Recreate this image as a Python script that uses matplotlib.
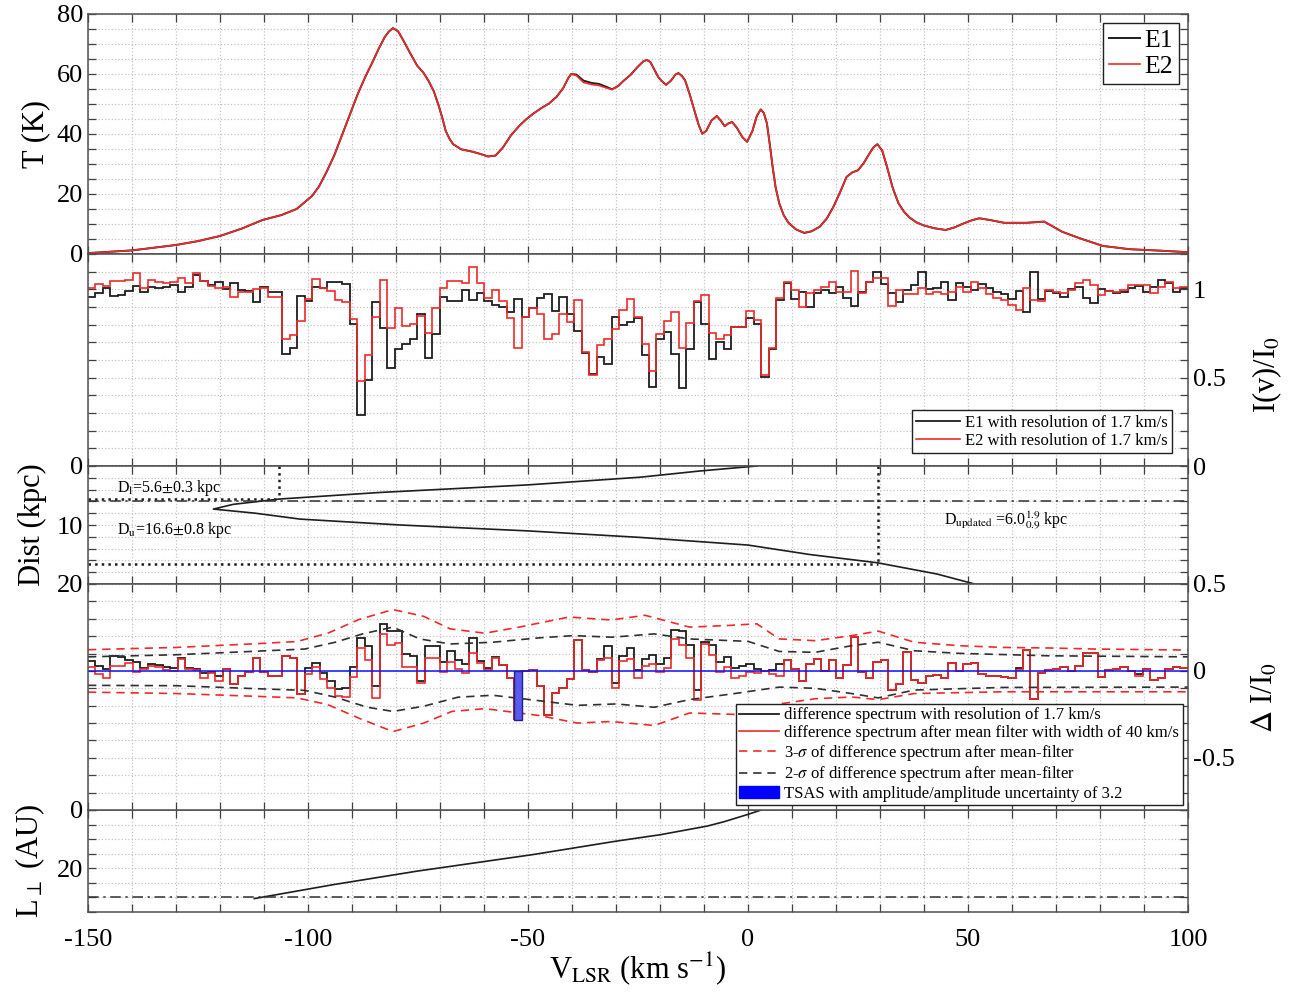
import numpy as np
import matplotlib.pyplot as plt
from matplotlib.ticker import MultipleLocator, FormatStrFormatter
from matplotlib.patches import Patch
from matplotlib.lines import Line2D

plt.rcParams['font.family'] = ['Liberation Serif', 'DejaVu Serif']
plt.rcParams['mathtext.fontset'] = 'stix'
plt.rcParams['axes.unicode_minus'] = False

# ---- panel 1: emission spectrum T(v) for E1 and E2 ----
t_vel = [-150, -140, -130, -125, -120, -115, -110.4, -106, -102.6, -99.1, -97.5, -95.7, -94, -92.2,
         -90.5, -88.7, -87, -85.2, -83.9, -82.6, -81.6, -80.7, -79.5, -78.3, -76.8, -75.2, -73.8,
         -72.6, -71.4, -70.4, -69.5, -68.7, -67.8, -67, -65.2, -62.6, -60.5, -59.1, -57.4, -55.7,
         -53.9, -52, -50.4, -48.7, -47, -45.2, -43.5, -42, -40.9, -40.2, -39, -37.4, -35.5, -33.9,
         -32.3, -30.9, -29.5, -28.3, -26.7, -25.2, -23.8, -23.0, -22.2, -21.3, -20.4, -19.3, -18.6,
         -17.5, -16.5, -15.8, -15, -14.3, -13.2, -12.2, -11.2, -10.4, -9.5, -8.3, -7.1, -6.2, -5.3,
         -4.5, -3.6, -2.5, -1.3, -0.2, 1.0, 2.0, 2.9, 3.6, 4.3, 5.0, 5.6, 6.3, 7.1, 8.1, 9.2, 10.9,
         12.8, 14.5, 16.3, 17.9, 19.4, 20.9, 22.4, 23.7, 25, 26.3, 27.6, 28.5, 29.4, 30.5, 31.6,
         32.9, 34.2, 35.5, 36.7, 38.2, 39.8, 42.3, 44.9, 47, 49, 51, 52.6, 55.1, 58.2, 63.3, 67.3,
         69.5, 71.4, 75.5, 80.6, 86.7, 93.9, 100]
t_e2 = [0.3, 1.2, 3.0, 4.3, 6.0, 8.5, 11.3, 13.0, 15.0, 19.3, 22.5, 27.6, 33, 39.9,
        46.5, 53.3, 59, 64.4, 68.5, 72.2, 74.2, 75.3, 74.2, 71.1, 67, 62.8, 60.5,
        57.7, 54.2, 49.9, 45.5, 41, 38.3, 36.6, 34.9, 34.1, 33.2, 32.5, 32.8, 35.5,
        39.5, 42.7, 44.9, 46.9, 48.6, 50.2, 52.4, 55.3, 58.5, 60, 59.5, 57.2, 56.5, 56.2,
        55.4, 54.8, 56, 57.7, 59.7, 62.2, 64.2, 64.7, 64, 61.5, 59, 57.2, 56.4,
        57.8, 59.8, 60.3, 59.3, 57.9, 53, 47.9, 43, 40.1, 41, 44.5, 46, 44.5, 42.6,
        43.5, 44, 42, 39, 37.4, 41, 46, 48.2, 47, 43.5, 36, 29, 22, 16.9, 13, 10.4, 8.2,
        7.1, 7.6, 9.1, 11.8, 15.7, 20.5, 25.7, 27.2, 27.9, 30.3, 33.5, 35.5, 36.6, 34.5, 29,
        22, 16.9, 14, 12.2, 10.6, 9.6, 8.6, 8, 8.9, 10.2, 11.3, 11.9, 11.3, 10.4, 10.4, 10.8,
        9.0, 7.4, 5.2, 2.7, 1.6, 1.1, 0.6]
t_e1 = [0.3, 1.2, 3.0, 4.3, 6.0, 8.5, 11.3, 13.0, 15.0, 19.3, 22.5, 27.6, 33, 39.9,
        46.5, 53.3, 59, 64.4, 68.5, 72.2, 74.2, 75.3, 74.2, 71.1, 67, 62.8, 60.5,
        57.7, 54.2, 49.9, 45.5, 41, 38.3, 36.6, 34.9, 34.1, 33.2, 32.5, 32.8, 35.5,
        39.5, 42.7, 44.9, 46.9, 48.6, 50.2, 52.4, 55.3, 58.5, 60, 59.8, 57.8, 57.0, 56.7,
        55.8, 54.9, 56, 57.7, 59.7, 62.2, 64.2, 64.7, 64, 61.5, 59, 57.2, 56.4,
        57.8, 59.8, 60.3, 59.3, 57.9, 53, 47.9, 43, 40.1, 41, 44.5, 46, 44.5, 42.6,
        43.5, 44, 42, 39, 37.4, 41, 46, 48.2, 47, 43.5, 36, 29, 22, 16.9, 13, 10.4, 8.2,
        7.0, 7.6, 9.1, 11.8, 15.7, 20.5, 25.7, 27.2, 27.9, 30.3, 33.5, 35.5, 36.6, 34.5, 29,
        22, 16.9, 14, 12.2, 10.6, 9.6, 8.6, 8, 8.9, 10.2, 11.3, 11.9, 11.3, 10.4, 10.4, 10.8,
        9.0, 7.4, 5.2, 2.7, 1.6, 1.1, 0.6]

# ---- panel 2: absorption spectra I(v)/I0, 1.7 km/s channels from -150 km/s ----
chan_start = -150.0
chan_width = 1.7
abs_e1 = [0.958, 0.977, 1.009, 0.964, 0.967, 0.990, 1.020, 0.986, 1.015, 1.005, 1.013, 1.024, 0.986,
          1.015, 1.081, 1.047, 1.024, 1.039, 1.002, 1.034, 0.996, 0.992, 0.930, 1.015, 0.986, 0.986,
          0.636, 0.668, 0.964, 0.933, 1.015, 1.005, 1.043, 1.043, 1.030, 0.806, 0.289, 0.484, 0.930,
          0.782, 0.555, 0.661, 0.693, 0.717, 0.863, 0.611, 0.750, 0.958, 0.933,
          0.933, 0.996, 0.939, 0.977, 0.933, 0.914, 0.901, 0.873, 0.945, 0.844, 0.892, 0.952, 0.971,
          0.877, 0.958, 0.863, 0.763, 0.642, 0.522, 0.617, 0.579, 0.844, 0.797, 0.816, 0.839, 0.627,
          0.447, 0.721, 0.759, 0.636, 0.441, 0.661, 0.930, 0.801, 0.608, 0.702, 0.664, 0.787, 0.787,
          0.839, 0.806, 0.503, 0.664, 0.939, 1.034, 0.948, 0.986, 0.901, 0.977,
          0.996, 0.977, 1.015, 0.952, 0.907, 0.986, 1.039, 1.096, 1.028, 0.977, 0.930, 0.996, 1.024,
          1.096, 1.002, 1.005, 1.039, 0.939, 1.034, 1.015, 0.996, 1.028, 1.005, 0.986, 0.971, 0.948,
          0.990, 0.873, 1.100, 0.948, 0.990, 0.977, 0.958, 1.002, 1.015, 0.952, 0.920, 1.002, 0.990,
          0.977, 0.986, 1.009, 1.020, 0.986, 1.015, 1.053, 1.034, 0.986, 1.005]
abs_e2 = [1.005, 1.028, 1.020, 1.047, 1.047, 1.053, 1.091, 1.005, 1.053, 1.039, 1.034, 1.043, 1.062,
          1.034, 1.091, 1.047, 1.020, 1.009, 1.015, 0.958, 0.986, 0.986, 1.002, 1.009, 0.958, 0.958,
          0.721, 0.744, 0.820, 0.948, 1.058, 1.009, 0.990, 0.939, 0.930, 0.831, 0.479, 0.627, 0.844,
          1.053, 0.782, 0.892, 0.793, 0.801, 0.850, 0.755, 0.895, 1.009, 1.047,
          1.047, 1.034, 1.128, 1.034, 0.952, 0.996, 0.933, 0.835, 0.668, 0.844, 0.895, 0.863, 0.717,
          0.750, 0.858, 0.816, 0.939, 0.645, 0.513, 0.687, 0.721, 0.774, 0.882, 0.945, 0.844, 0.693,
          0.536, 0.750, 0.820, 0.869, 0.668, 0.812, 0.933, 0.967, 0.755, 0.721, 0.744, 0.787, 0.787,
          0.877, 0.825, 0.513, 0.668, 0.952, 1.039, 0.996, 0.901, 0.977, 0.996,
          1.015, 1.039, 0.986, 0.986, 1.104, 0.977, 1.039, 1.062, 1.062, 0.907, 0.996, 0.971, 0.971,
          1.009, 0.971, 0.983, 0.971, 0.986, 1.015, 0.986, 1.043, 1.009, 0.971, 0.952, 0.939, 0.914,
          0.882, 1.009, 0.939, 0.933, 0.996, 0.986, 0.977, 0.996, 1.034, 1.053, 1.024, 0.967, 0.990,
          0.986, 0.996, 1.024, 1.024, 1.024, 0.977, 1.015, 1.039, 1.009, 1.015]

# ---- panel 3: kinematic distance vs velocity ----
dist_kpc = [0, 0.85, 1.9, 3.2, 4.5, 5.6, 6.5, 7.3, 8.0, 9.0, 10.0, 11.0, 12.1, 13.4, 15.0, 16.4, 18.3, 20.0]
dist_vel = [2.0, -11, -24.5, -50, -84, -106.5, -117, -121.5, -112, -101.8, -79, -50, -24.6, 0, 14, 29.4, 42.9, 51.5]
d_near, v_near = 5.6, -106.5
d_far, v_far = 16.6, 29.5
d_updated = 6.0

# ---- panel 4: difference spectra (same channels) and sigma envelopes ----
diff_raw = [0.055, 0.030, 0.011, 0.083, 0.080, 0.063, 0.050, 0.019, 0.038, 0.034,
            0.021, 0.019, 0.076, 0.019, 0.010, -0.010, -0.004, -0.030, 0.013, -0.076,
            -0.030, -0.006, 0.072, -0.006, -0.028, -0.028, 0.085, 0.076, -0.130, 0.015,
            0.043, -0.010, -0.060, -0.104, -0.100, 0.025, 0.190, 0.143, -0.086, 0.271,
            0.227, 0.231, 0.100, 0.084, -0.060, 0.144, 0.145, 0.051, 0.114, 0.060,
            0.038, 0.189, 0.057, 0.019, 0.082, 0.032, -0.038, -0.277, 0.000, 0.003,
            -0.089, -0.254, -0.127, -0.100, -0.047, 0.176, 0.003, -0.009, 0.070, 0.142,
            -0.070, 0.085, 0.129, 0.005, 0.066, 0.089, 0.040, 0.075, 0.233, 0.227,
            0.151, -0.107, 0.166, 0.147, 0.050, 0.080, 0.019, 0.029, 0.038, 0.010,
            0.000, 0.004, 0.040, 0.060, 0.010, -0.060, 0.040, 0.068, 0.000, 0.062,
            -0.040, 0.034, 0.197, -0.009, -0.040, 0.050, 0.062, -0.110, -0.078, 0.107,
            -0.053, -0.070, -0.031, -0.022, -0.040, 0.047, 0.000, 0.040, 0.047, -0.019,
            -0.029, -0.029, -0.035, -0.040, 0.016, 0.120, -0.161, -0.010, 0.006, 0.012,
            0.020, -0.003, 0.030, 0.105, 0.104, -0.037, 0.005, 0.009, 0.020, 0.000,
            -0.020, 0.010, -0.050, -0.040, 0.010, 0.023, 0.015]
diff_filt = [0.025, -0.020, -0.039, 0.031, 0.028, 0.043, -0.004, 0.009, 0.028, 0.024,
             0.003, 0.001, 0.070, 0.013, 0.004, -0.040, -0.010, -0.060, 0.013, -0.076,
             -0.030, -0.006, 0.072, -0.006, -0.028, -0.028, 0.085, 0.076, -0.130, -0.020,
             0.023, -0.045, -0.100, -0.144, -0.150, -0.033, 0.132, 0.065, -0.154, 0.213,
             0.149, 0.163, 0.022, 0.022, -0.070, 0.072, 0.073, -0.007, 0.052, 0.012,
             -0.010, 0.102, 0.047, 0.005, 0.072, 0.032, -0.038, -0.277, 0.000, 0.003,
             -0.089, -0.254, -0.127, -0.100, -0.047, 0.176, 0.003, -0.009, 0.060, 0.074,
             -0.100, 0.055, 0.069, -0.043, 0.027, 0.042, -0.007, 0.017, 0.181, 0.147,
             0.073, -0.165, 0.156, 0.089, -0.004, 0.022, -0.039, -0.029, -0.007, -0.013,
             0.000, -0.019, -0.028, 0.060, 0.010, -0.060, 0.040, 0.068, 0.000, 0.062,
             -0.040, 0.034, 0.197, -0.009, -0.040, 0.050, 0.062, -0.110, -0.078, 0.107,
             -0.053, -0.070, -0.031, -0.022, -0.040, 0.047, 0.000, 0.040, 0.047, -0.019,
             -0.029, -0.029, -0.035, -0.040, 0.006, 0.120, -0.161, -0.010, 0.006, 0.012,
             0.020, -0.003, 0.030, 0.105, 0.104, -0.037, 0.005, 0.009, 0.020, 0.000,
             -0.030, 0.010, -0.050, -0.040, 0.010, 0.023, 0.015]
sig3_up_v = [-150, -130, -113, -102.5, -95.5, -88.5, -80.7, -73.7, -67.7, -59.8, -52, -40.7, -31.1,
             -23.4, -13.3, -4.1, 2, 7.1, 15.3, 23.5, 29.6, 37.8, 48, 58.2, 68.4, 78.6, 100]
sig3_up = [0.122, 0.135, 0.155, 0.169, 0.217, 0.295, 0.353, 0.314, 0.242, 0.217, 0.252, 0.310, 0.293,
           0.320, 0.252, 0.262, 0.271, 0.184, 0.174, 0.203, 0.229, 0.165, 0.145, 0.135, 0.132, 0.126, 0.120]
sig2_up_v = [-150, -130, -113, -100.7, -93.8, -87.6, -80.7, -74.6, -67.7, -58, -47.6, -39.7, -30.9,
             -21.3, -13.3, 0, 7.1, 15.3, 23.5, 29.6, 37.8, 48, 68.4, 100]
sig2_up = [0.081, 0.093, 0.112, 0.126, 0.165, 0.213, 0.252, 0.184, 0.155, 0.165, 0.190, 0.203, 0.194,
           0.213, 0.184, 0.170, 0.112, 0.107, 0.145, 0.165, 0.116, 0.101, 0.087, 0.081]
sig2_lo_v = [-150, -130, -113, -100.7, -93.8, -86.5, -80.7, -73.7, -65.9, -58, -47.6, -38.8, -30,
             -21.3, -13.3, -3, 7.1, 15.3, 23.5, 29.6, 37.8, 58, 100]
sig2_lo = [-0.083, -0.085, -0.101, -0.112, -0.151, -0.209, -0.233, -0.203, -0.151, -0.140, -0.171, -0.198,
           -0.190, -0.209, -0.165, -0.130, -0.093, -0.100, -0.130, -0.155, -0.110, -0.095, -0.093]
sig3_lo_v = [-150, -130, -113, -102.5, -95.5, -88.5, -80.7, -73.7, -67.3, -59.8, -47.6, -38.8, -31.1,
             -21.3, -13.3, -3, 7.1, 15.3, 23.5, 29.6, 37.8, 58, 100]
sig3_lo = [-0.122, -0.130, -0.145, -0.155, -0.194, -0.271, -0.349, -0.300, -0.233, -0.217, -0.256, -0.300,
           -0.291, -0.314, -0.242, -0.250, -0.190, -0.160, -0.150, -0.165, -0.130, -0.120, -0.120]
tsas_vel = -52.25
tsas_amp = -0.28

# ---- panel 5: transverse length ----
lperp_vel = [3, 0, -5.4, -9.2, -20, -30, -48.9, -75.3, -94.2, -112.2]
lperp_au = [0, 1.5, 4, 5.5, 8.5, 10.7, 15.3, 21, 25.6, 30.4]
lperp_max = 30

BLACK = '#1e1e1e'
RED = '#ee2a2a'
GRID = '#c4c4c4'
TICK_FS = 19
LAB_FS = 22

fig = plt.figure(figsize=(13.05, 9.94), dpi=100)
W_PX, H_PX = 1305, 994


def add_panel(top, bottom):
    return fig.add_axes([88 / W_PX, 1 - bottom / H_PX, 1100 / W_PX, (bottom - top) / H_PX])


ax1 = add_panel(14, 254)
ax2 = add_panel(254, 466)
ax3 = add_panel(466, 584)
ax4 = add_panel(584, 810)
ax5 = add_panel(810, 912)
axes = [ax1, ax2, ax3, ax4, ax5]

for ax in axes:
    ax.set_xlim(-150, 100)
    ax.xaxis.set_major_locator(MultipleLocator(50))
    ax.xaxis.set_minor_locator(MultipleLocator(10))
    ax.tick_params(which='both', direction='in', top=True, bottom=True, left=True, right=True,
                   labelsize=TICK_FS, length=6, width=0.9, color='#404040')
    ax.grid(which='both', linestyle=':', color=GRID, linewidth=0.9)
    ax.set_axisbelow(True)
    for sp in ax.spines.values():
        sp.set_color('#505050')
        sp.set_linewidth(1.1)
    if ax is not ax5:
        ax.tick_params(labelbottom=False)

# panel 1
ax1.plot(t_vel, t_e1, color=BLACK, lw=1.4, label='E1')
ax1.plot(t_vel, t_e2, color=RED, lw=1.2, label='E2')
ax1.set_ylim(0, 80)
ax1.yaxis.set_major_locator(MultipleLocator(20))
ax1.yaxis.set_minor_locator(MultipleLocator(5))
ax1.set_ylabel('T (K)', fontsize=LAB_FS)
ax1.yaxis.set_label_coords(-0.034, 0.5)
leg1 = ax1.legend(loc='upper right', fontsize=18.5, handlelength=1.2, handletextpad=0.15,
                  borderpad=0.25, labelspacing=0.1, fancybox=False, framealpha=1,
                  borderaxespad=0.35)
leg1.get_frame().set_edgecolor('#202020')

# panel 2
edges = chan_start + chan_width * np.arange(len(abs_e1) + 1)
ax2.stairs(abs_e1, edges, baseline=None, color=BLACK, lw=1.3,
           label='E1 with resolution of 1.7 km/s')
ax2.stairs(abs_e2, edges, baseline=None, color=RED, lw=1.2,
           label='E2 with resolution of 1.7 km/s')
ax2.set_ylim(0, 1.2)
ax2.yaxis.set_major_locator(MultipleLocator(0.5))
ax2.yaxis.set_minor_locator(MultipleLocator(0.1))
ax2.yaxis.set_major_formatter(FormatStrFormatter('%g'))
ax2.tick_params(labelleft=False, labelright=True)
ax2.yaxis.set_label_position('right')
ax2.set_ylabel('I(v)/I$_0$', fontsize=LAB_FS)
ax2.yaxis.set_label_coords(1.057, 0.43)
leg2 = ax2.legend(loc='lower right', fontsize=12, handlelength=2.6, handletextpad=0.3,
                  borderpad=0.25, labelspacing=0.15, fancybox=False, framealpha=1,
                  borderaxespad=0.0, bbox_to_anchor=(0.985, 0.06))
leg2.get_frame().set_edgecolor('#202020')

# panel 3
ax3.plot(dist_vel, dist_kpc, color=BLACK, lw=1.2)
ax3.plot([v_near, v_near], [0, d_near], color=BLACK, ls=':', lw=1.8)
ax3.plot([-150, v_near], [d_near, d_near], color=BLACK, ls=':', lw=1.8)
ax3.plot([v_far, v_far], [0, d_far], color=BLACK, ls=':', lw=1.8)
ax3.plot([-150, v_far], [d_far, d_far], color=BLACK, ls=':', lw=1.8)
ax3.axhline(d_updated, color='#303030', ls=(0, (7, 3, 1.5, 3)), lw=1.1)
ax3.set_ylim(20, 0)
ax3.yaxis.set_major_locator(MultipleLocator(10))
ax3.yaxis.set_minor_locator(MultipleLocator(2))
ax3.set_ylabel('Dist (kpc)', fontsize=LAB_FS)
ax3.yaxis.set_label_coords(-0.037, 0.5)
ax3.text(-143.5, 3.8, r'D$_\mathrm{l}$=5.6$\pm$0.3 kpc', fontsize=11.5, va='center')
ax3.text(-143.5, 10.9, r'D$_\mathrm{u}$=16.6$\pm$0.8 kpc', fontsize=11.5, va='center')
ax3.text(44.5, 9.2, r'D$_\mathrm{updated}$ =6.0$^{1.9}_{0.9}$ kpc', fontsize=11.5, va='center')

# panel 4
ax4.axhline(0, color='#1010ff', lw=1.1)
ax4.stairs(diff_raw, edges, baseline=None, color=BLACK, lw=1.3)
ax4.stairs(diff_filt, edges, baseline=None, color=RED, lw=1.2)
ax4.plot(sig3_up_v, sig3_up, color=RED, ls=(0, (5, 3.5)), lw=1.2)
ax4.plot(sig3_lo_v, sig3_lo, color=RED, ls=(0, (5, 3.5)), lw=1.2)
ax4.plot(sig2_up_v, sig2_up, color='#303030', ls=(0, (5, 3.5)), lw=1.2)
ax4.plot(sig2_lo_v, sig2_lo, color='#303030', ls=(0, (5, 3.5)), lw=1.2)
ax4.bar(tsas_vel, tsas_amp, width=chan_width, color='#5a5af0', edgecolor='#202080', lw=1.0, zorder=3)
ax4.set_ylim(-0.8, 0.5)
ax4.yaxis.set_major_locator(MultipleLocator(0.5))
ax4.yaxis.set_minor_locator(MultipleLocator(0.1))
ax4.yaxis.set_major_formatter(FormatStrFormatter('%g'))
ax4.tick_params(labelleft=False, labelright=True)
ax4.yaxis.set_label_position('right')
ax4.set_ylabel(r'$\Delta$ I/I$_0$', fontsize=LAB_FS)
ax4.yaxis.set_label_coords(1.057, 0.5)
handles4 = [Line2D([], [], color=BLACK, lw=1.3),
            Line2D([], [], color=RED, lw=1.2),
            Line2D([], [], color=RED, lw=1.2, ls=(0, (5, 3.5))),
            Line2D([], [], color='#303030', lw=1.2, ls=(0, (5, 3.5))),
            Patch(facecolor='#0000ff', edgecolor='#0000ff')]
labels4 = ['difference spectrum with resolution of 1.7 km/s',
           'difference spectrum after mean filter with width of 40 km/s',
           r'3-$\sigma$ of difference spectrum after mean-filter',
           r'2-$\sigma$ of difference spectrum after mean-filter',
           'TSAS with amplitude/amplitude uncertainty of 3.2']
leg4 = ax4.legend(handles4, labels4, loc='lower right', fontsize=12, handlelength=2.4,
                  handletextpad=0.3, borderpad=0.2, labelspacing=0.1, fancybox=False,
                  framealpha=1, borderaxespad=0.0, bbox_to_anchor=(0.995, 0.02))
leg4.get_frame().set_edgecolor('#202020')
leg4.set_zorder(10)

# panel 5
ax5.plot(lperp_vel, lperp_au, color=BLACK, lw=1.2)
ax5.axhline(lperp_max, color='#303030', ls=(0, (7, 3, 1.5, 3)), lw=1.1)
ax5.set_ylim(35, 0)
ax5.yaxis.set_major_locator(MultipleLocator(20))
ax5.yaxis.set_minor_locator(MultipleLocator(5))
ax5.tick_params(axis='x', pad=12)
ax5.set_ylabel(r'L$_\perp$ (AU)', fontsize=LAB_FS)
ax5.yaxis.set_label_coords(-0.037, 0.5)
ax5.set_xlabel(r'V$_\mathrm{LSR}$ (km s$^{-1}$)', fontsize=LAB_FS, labelpad=0)
ax5.set_zorder(-1)

fig.savefig('out.png', dpi=100)
